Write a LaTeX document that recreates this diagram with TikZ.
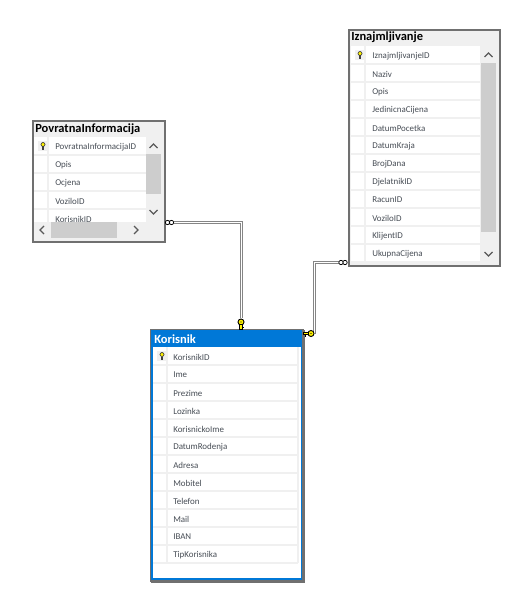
\documentclass[tikz,border=0pt]{standalone}
\usepackage{fontspec}
\setmainfont{Carlito}
\definecolor{panel}{HTML}{F0F0F0}
\definecolor{frame}{HTML}{707070}
\definecolor{sep}{HTML}{F0F0F0}
\definecolor{thumb}{HTML}{CDCDCD}
\definecolor{keyy}{HTML}{FFF200}
\definecolor{winblue}{HTML}{0078D7}
\definecolor{rowtxt}{HTML}{474D55}
\tikzset{
 x=0.75pt,y=-0.75pt,
 rowlabel/.style={anchor=west,inner sep=0pt,font=\fontsize{6.7}{8}\selectfont,text=rowtxt},
 titlelabel/.style={anchor=west,inner sep=0pt,font=\fontsize{9.35}{11}\selectfont\bfseries,text=black},
 chev/.style={draw=black!65,line width=.9pt,fill=none},
 rel/.style={draw=frame!85,line width=2.3pt,line join=miter},
 relin/.style={draw=white,line width=0.8pt},
}
\newcommand{\tabframe}[5]{\node[draw=frame,line width=1.3pt,fill=panel,inner sep=0pt,minimum width=#3*0.75pt-#1*0.75pt,minimum height=#4*0.75pt-#2*0.75pt,anchor=north west] (#5) at (#1,#2) {};}
\newcommand{\rowkey}[2]{%
 \fill[sep] (#1-5,#2-5) rectangle (#1+5,#2+5);
 \filldraw[fill=keyy,draw=black!75,line width=.5pt] (#1,#2-1.5) circle (2);
 \draw[black!75,line width=1pt] (#1,#2+.5) -- (#1,#2+4);
}
\newcommand{\chevup}[2]{\draw[chev] (#1-4,#2+2) -- (#1,#2-2) -- (#1+4,#2+2);}
\newcommand{\chevdown}[2]{\draw[chev] (#1-4,#2-2) -- (#1,#2+2) -- (#1+4,#2-2);}
\begin{document}
\begin{tikzpicture}
\useasboundingbox[fill=white] (0,0) rectangle (510,602);

% ---------- PovratnaInformacija
\tabframe{32}{120}{164}{241}{pi}
\node[titlelabel] (pititle) at (35,129.5) {PovratnaInformacija};
\fill[white] (34,137) rectangle (146,222);
\foreach \yy in {155,173,191,209} \draw[sep,line width=.8pt] (34,\yy) -- (146,\yy);
\draw[sep,line width=.8pt] (48,137) -- (48,222);
\begin{scope}
\clip (34,137) rectangle (146,222);
\rowkey{43}{146}
\node[rowlabel] (pi1) at (55,147) {PovratnaInformacijaID};
\node[rowlabel] (pi2) at (55,165) {Opis};
\node[rowlabel] (pi3) at (55,183) {Ocjena};
\node[rowlabel] (pi4) at (55,201) {VoziloID};
\node[rowlabel] (pi5) at (55,219) {KorisnikID};
\end{scope}
\fill[thumb] (146,154) rectangle (161,194);
\chevup{153.5}{146}
\chevdown{153.5}{212}
\fill[thumb] (51,222) rectangle (117,238);
\draw[chev] (44,226) -- (40,230) -- (44,234);
\draw[chev] (134,226) -- (138,230) -- (134,234);

% ---------- Iznajmljivanje
\tabframe{348}{29}{499}{265}{iz}
\node[titlelabel] (iztitle) at (351,37.5) {Iznajmljivanje};
\fill[white] (351,46) rectangle (480,263);
\foreach \yy in {64,82,...,262} \draw[sep,line width=.8pt] (351,\yy) -- (480,\yy);
\draw[sep,line width=.8pt] (365,46) -- (365,263);
\rowkey{360}{55}
\foreach \t [count=\i from 0] in {IznajmljivanjeID,Naziv,Opis,JedinicnaCijena,DatumPocetka,DatumKraja,BrojDana,DjelatnikID,RacunID,VoziloID,KlijentID,UkupnaCijena}
  \node[rowlabel] (iz\i) at (372,56+18*\i) {\t};
\fill[thumb] (481,63) rectangle (496,232);
\chevup{488.5}{55}
\chevdown{488.5}{254}

% ---------- Korisnik
\tabframe{150.5}{329.5}{303}{581}{ko}
\fill[winblue] (150.5,329.5) rectangle (303,581);
\draw[frame,line width=.8pt] (150.5,329.5) rectangle (303,581);
\node[titlelabel,text=white] (kotitle) at (154,339.5) {Korisnik};
\fill[white] (153,347) rectangle (300.5,578);
\foreach \yy in {365,383,...,564} \draw[sep,line width=.8pt] (153,\yy) -- (298,\yy);
\draw[sep,line width=.8pt] (167,347) -- (167,563);
\draw[sep,line width=.8pt] (298,347) -- (298,563);
\rowkey{162}{356}
\foreach \t [count=\i from 0] in {KorisnikID,Ime,Prezime,Lozinka,KorisnickoIme,DatumRodenja,Adresa,Mobitel,Telefon,Mail,IBAN,TipKorisnika}
  \node[rowlabel] (ko\i) at (173,357+18*\i) {\t};

% ---------- Relationships
\coordinate (a1) at (174,222.5);
\coordinate (a2) at (241.5,222.5);
\coordinate (a3) at (241.5,318);
\coordinate (b1) at (339,262.5);
\coordinate (b2) at (314.5,262.5);
\coordinate (b3) at (314.5,333.5);
\draw[rel] (a1) -- (a2) -- (a3);
\draw[relin] (a1) -- (a2) -- (a3);
\draw[rel] (b1) -- (b2) -- (b3);
\draw[relin] (b1) -- (b2) -- (b3);
% infinity ends
\draw[black,line width=.55pt,fill=white] (167.5,222.5) circle (2.2) (171.5,222.5) circle (2.2);
\draw[black,line width=.55pt,fill=white] (341,262.5) circle (2.2) (345,262.5) circle (2.2);
% keys
\filldraw[fill=keyy,draw=black,line width=.7pt] (241,322) circle (3);
\fill[black] (241,322) circle (.7);
\filldraw[fill=keyy,draw=black,line width=.6pt] (239.7,324.5) rectangle (242.3,329.5);
\draw[black,line width=.6pt] (242.3,327) -- (244,327);
\filldraw[fill=keyy,draw=black,line width=.7pt] (311,333.5) circle (3);
\fill[black] (311,333.5) circle (.7);
\filldraw[fill=keyy,draw=black,line width=.6pt] (303.5,332.2) rectangle (308.5,334.8);
\draw[black,line width=.6pt] (305.5,334.8) -- (305.5,336.5);
\end{tikzpicture}
\end{document}
